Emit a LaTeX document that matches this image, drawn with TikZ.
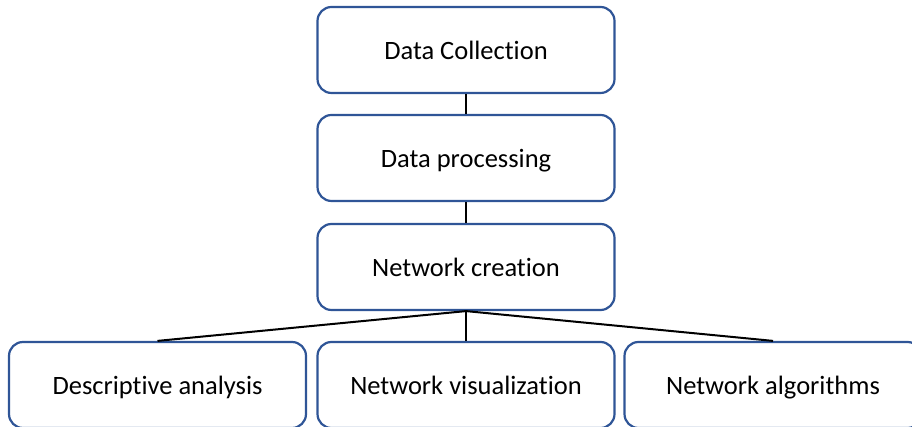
\documentclass[tikz,border=0pt]{standalone}
\usepackage{fontspec}
\setmainfont[Ligatures={NoCommon,NoRequired,NoContextual}]{Carlito}
\definecolor{boxblue}{HTML}{2F5597}
\begin{document}
\begin{tikzpicture}[x=1pt,y=1pt,
  box/.style={draw=boxblue,line width=2.2pt,rounded corners=14pt,fill=white,
    minimum width=297pt,minimum height=86pt,inner sep=0pt,text height=20pt,text depth=1pt,
    font=\fontsize{26.5}{30}\selectfont},
  link/.style={draw=black,line width=2pt}]
\useasboundingbox (0,0) rectangle (912,427);
\clip (0,0) rectangle (912,427);
\node[box] (a) at (466,377) {Data Collection};
\node[box] (b) at (466,269) {Data processing};
\node[box] (c) at (466,160) {Network creation};
\node[box] (d) at (157.5,42) {Descriptive analysis};
\node[box] (e) at (466,42) {Network visualization};
\node[box] (f) at (773,42) {Network algorithms};
\draw[link] (a.south) -- (b.north);
\draw[link] (b.south) -- (c.north);
\draw[link] (c.south) -- (d.north);
\draw[link] (c.south) -- (e.north);
\draw[link] (c.south) -- (f.north);
\end{tikzpicture}
\end{document}
